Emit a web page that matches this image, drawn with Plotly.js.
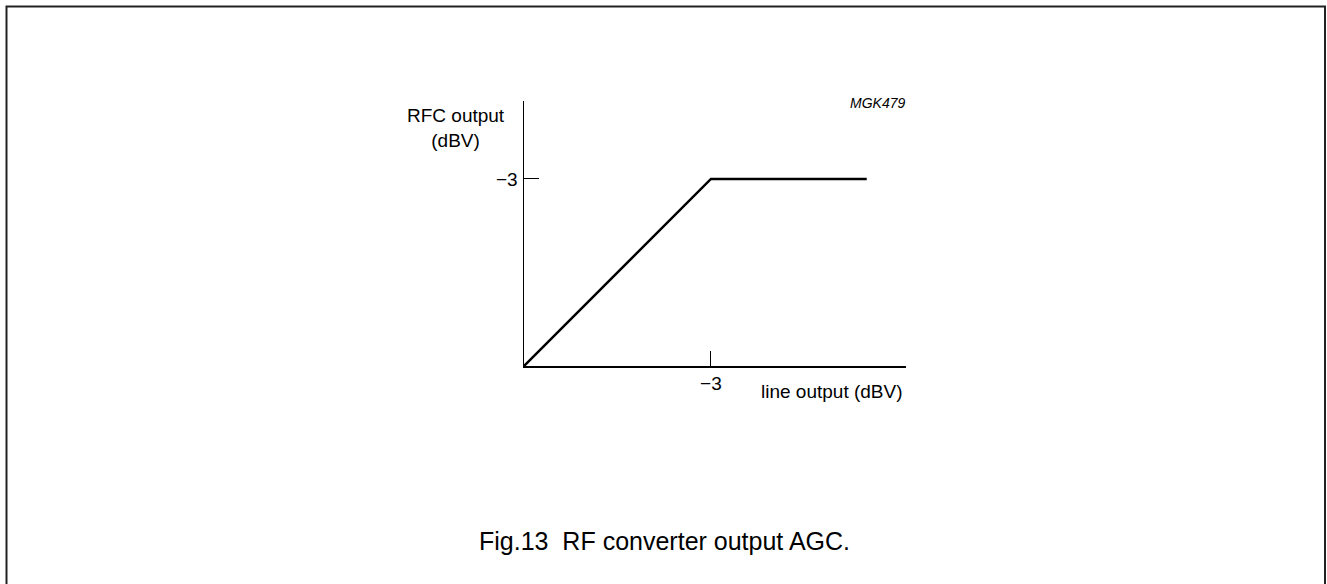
<!DOCTYPE html>
<html>
<head>
<meta charset="utf-8">
<script src="https://cdn.plot.ly/plotly-3.0.1.min.js"></script>
<style>html,body{margin:0;padding:0;background:#fff;}#chart{width:1327px;height:584px;}</style>
</head>
<body>
<div id="chart"></div>
<script>
// data (dBV)
const lineOutput = [-6, -3, -0.5];
const rfcOutput = [-6, -3, -3];
const xTickVals = [-3];
const xTickText = ['\u22123'];
const yTickVals = [-3];
const yTickText = ['\u22123'];

const W = 1327, H = 584;
const L = 524, R = 906, T = 101, B = 366;
const px = v => (v - L) / (R - L);
const py = v => (B - v) / (B - T);
const FONT = 'Liberation Sans, Arial, sans-serif';
const FS = 19;

const trace = {
  x: lineOutput, y: rfcOutput, type: 'scatter', mode: 'lines',
  line: {color: '#000', width: 2.5}, hoverinfo: 'skip', cliponaxis: false
};

const layout = {
  width: W, height: H,
  margin: {l: L, r: W - R, t: T, b: H - B, pad: 0},
  paper_bgcolor: '#fff', plot_bgcolor: '#fff',
  showlegend: false,
  font: {family: FONT, color: '#000', size: FS},
  xaxis: {
    range: [-6, 0.13], showgrid: false, zeroline: false,
    showline: true, linecolor: '#000', linewidth: 1.5,
    tickvals: xTickVals, ticktext: xTickText,
    ticks: 'inside', ticklen: 15, tickwidth: 1, tickcolor: '#000',
    ticklabelstandoff: 0,
    tickfont: {family: FONT, size: FS, color: '#000'}, fixedrange: true
  },
  yaxis: {
    range: [-6, -1.75], showgrid: false, zeroline: false,
    showline: true, linecolor: '#000', linewidth: 1.5,
    tickvals: yTickVals, ticktext: yTickText,
    ticks: 'inside', ticklen: 15, tickwidth: 1, tickcolor: '#000',
    ticklabelstandoff: 1,
    tickfont: {family: FONT, size: FS, color: '#000'}, fixedrange: true
  },
  shapes: [{
    type: 'rect', xref: 'paper', yref: 'paper',
    x0: px(6.5), x1: px(1325), y0: py(620), y1: py(6.5),
    line: {color: '#222', width: 2}, fillcolor: 'rgba(0,0,0,0)', layer: 'below'
  }],
  annotations: [
    {text: 'RFC output<br>(dBV)', xref: 'paper', yref: 'paper', x: px(456), y: py(128),
     xanchor: 'center', yanchor: 'middle', showarrow: false, align: 'center',
     font: {family: FONT, size: FS, color: '#000'}},
    {text: '<i>MGK479</i>', xref: 'paper', yref: 'paper', x: px(907), y: py(103),
     xanchor: 'right', yanchor: 'middle', showarrow: false,
     font: {family: FONT, size: 14, color: '#000'}},
    {text: 'line output (dBV)', xref: 'paper', yref: 'paper', x: px(905), y: py(391),
     xanchor: 'right', yanchor: 'middle', showarrow: false,
     font: {family: FONT, size: FS, color: '#000'}},
    {text: 'Fig.13  RF converter output AGC.', xref: 'paper', yref: 'paper', x: px(664), y: py(541),
     xanchor: 'center', yanchor: 'middle', showarrow: false,
     font: {family: FONT, size: 25, color: '#000'}}
  ]
};

Plotly.newPlot('chart', [trace], layout, {staticPlot: true, displayModeBar: false});
</script>
</body>
</html>
